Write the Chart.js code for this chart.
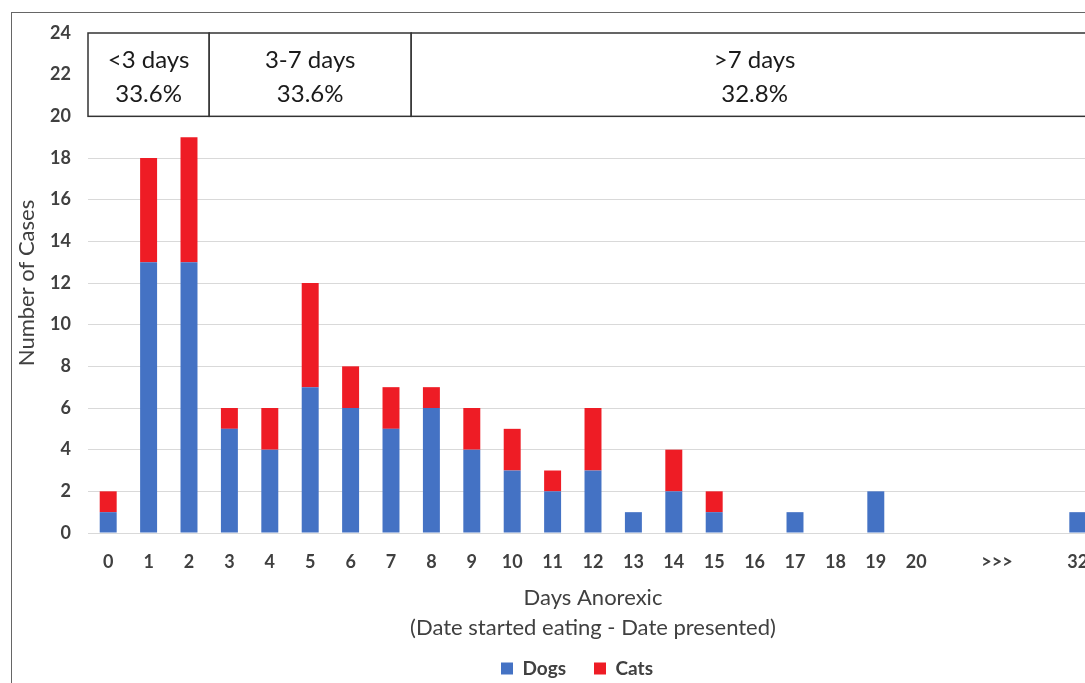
<!DOCTYPE html>
<html>
<head>
<meta charset="utf-8">
<script src="https://cdn.jsdelivr.net/npm/chart.js@4"></script>
<style>
  html, body { margin: 0; padding: 0; background: #fff; overflow: hidden; }
  #wrap { position: relative; width: 1085px; height: 683px; overflow: hidden; }
  #frame { position: absolute; left: 11px; top: 12px; width: 1200px; height: 800px; border: 1px solid #666; }
  #myChart { position: absolute; left: 0; top: 0; }
</style>
</head>
<body>
<div id="wrap">
  <div id="frame"></div>
  <canvas id="myChart" width="1140" height="683"></canvas>
</div>
<script>
// datos del grafico
var dias = ['0','1','2','3','4','5','6','7','8','9','10','11','12','13','14','15','16','17','18','19','20','','>>>','','32'];
var perros = [1, 13, 13, 5, 4, 7, 6, 5, 6, 4, 3, 2, 3, 1, 2, 1, 0, 1, 0, 2, 0, 0, 0, 0, 1];
var gatos  = [1, 5, 6, 1, 2, 5, 2, 2, 1, 2, 2, 1, 3, 0, 2, 1, 0, 0, 0, 0, 0, 0, 0, 0, 0];

// cajas de rangos: [primer indice, ultimo indice, texto, porcentaje]
var rangos = [
  [0, 2, '<3 days', '33.6%'],
  [3, 7, '3-7 days', '33.6%'],
  [8, 24, '>7 days', '32.8%']
];
var cajaY = [20, 24];

var fuente = 'Lato, "Open Sans", sans-serif';
var gris = '#404040';

// plugin que dibuja las cajas de arriba
var cajasPlugin = {
  id: 'cajas',
  afterLayout: function(chart) {
    // mover la leyenda un poco (como en el original)
    var l = chart.legend;
    l.top -= 14;
    l.left += 23; l.right += 23;
  },
  afterDatasetsDraw: function(chart) {
    var c = chart.ctx, x = chart.scales.x, y = chart.scales.y;
    var yTop = y.getPixelForValue(cajaY[1]);
    var yBot = y.getPixelForValue(cajaY[0]);
    var borde = function(i) {
      if (i < 0) return chart.chartArea.left;
      if (i >= dias.length - 1) return chart.chartArea.right;
      return (x.getPixelForValue(i) + x.getPixelForValue(i + 1)) / 2;
    };
    c.save();
    rangos.forEach(function(r) {
      var x0 = borde(r[0] - 1), x1 = borde(r[1]);
      c.fillStyle = '#fff';
      c.fillRect(x0, yTop, x1 - x0, yBot - yTop);
      c.strokeStyle = '#333';
      c.lineWidth = 1.5;
      c.strokeRect(x0, yTop, x1 - x0, yBot - yTop);
      var cx = (x0 + x1) / 2;
      c.fillStyle = '#1a1a1a';
      c.font = '24px ' + fuente;
      c.textAlign = 'center';
      c.textBaseline = 'middle';
      c.fillText(r[2], cx, yTop + 27);
      c.fillText(r[3], cx, yTop + 61);
    });
    c.restore();
  }
};

var ctx = document.getElementById('myChart').getContext('2d');
var chart = new Chart(ctx, {
  type: 'bar',
  data: {
    labels: dias,
    datasets: [{
      label: 'Dogs',
      data: perros,
      backgroundColor: '#4472C4',
      categoryPercentage: 1,
      barPercentage: 0.42
    }, {
      label: 'Cats',
      data: gatos,
      backgroundColor: '#EE1C25',
      categoryPercentage: 1,
      barPercentage: 0.42
    }]
  },
  options: {
    responsive: false,
    devicePixelRatio: 1,
    animation: false,
    layout: { padding: { left: 10, right: 42, top: 33, bottom: 0 } },
    plugins: {
      legend: {
        position: 'bottom',
        maxHeight: 38,
        labels: {
          boxWidth: 12, boxHeight: 12, padding: 28,
          color: gris,
          font: { family: fuente, size: 19, weight: 'bold' }
        }
      },
      tooltip: { enabled: false }
    },
    scales: {
      x: {
        stacked: true,
        grid: { display: false, drawTicks: false },
        border: { display: false },
        ticks: { color: gris, font: { family: fuente, size: 18, weight: 'bold' }, padding: 18, maxRotation: 0, autoSkip: false },
        title: {
          display: true,
          text: ['Days Anorexic', '(Date started eating - Date presented)'],
          color: gris,
          font: { family: fuente, size: 22, lineHeight: 1.36 },
          padding: { top: 9, bottom: 2 }
        },
        afterFit: function(s) { s.height = 112; }
      },
      y: {
        stacked: true,
        min: 0, max: 24,
        grid: { color: '#d9d9d9', lineWidth: 1, drawTicks: false },
        border: { display: false },
        ticks: { stepSize: 2, color: gris, font: { family: fuente, size: 18, weight: 'bold' }, padding: 17 },
        title: {
          display: true,
          text: 'Number of Cases',
          color: gris,
          font: { family: fuente, size: 22 },
          padding: { top: 4, bottom: 4 }
        },
        afterFit: function(s) { s.width = 78; }
      }
    }
  },
  plugins: [cajasPlugin]
});
</script>
</body>
</html>
